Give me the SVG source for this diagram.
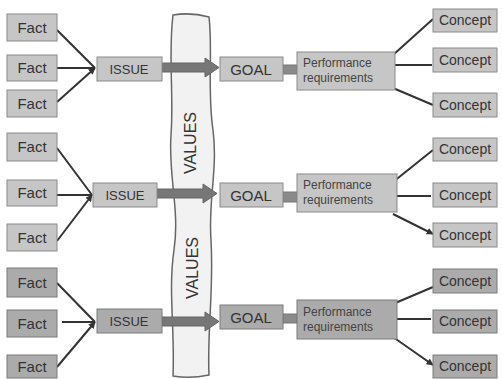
<svg xmlns="http://www.w3.org/2000/svg" width="502" height="379" viewBox="0 0 502 379">
<defs>
<style>
.n rect{fill:#c6c6c6;stroke:#8a8a8a;stroke-width:1}
.d rect{fill:#ababab;stroke:#7a7a7a;stroke-width:1}
text{font-family:"Liberation Sans",Arial,sans-serif;fill:#333;text-anchor:middle}
.f{font-size:15px}
.i{font-size:13px}
.g{font-size:15px}
.c{font-size:14px}
.p{font-size:12px;fill:#444;text-anchor:start}
.v{font-size:16px;fill:#333}
.ln{stroke:#333;stroke-width:2;fill:none}
.ar{fill:#777;stroke:#666;stroke-width:1}
.cn{fill:#8a8a8a;stroke:#777;stroke-width:1}
</style>
<marker id="ah" viewBox="0 0 10 10" refX="9" refY="5" markerWidth="7" markerHeight="7" markerUnits="userSpaceOnUse" orient="auto"><path d="M0,0L10,5L0,10z" fill="#333"/></marker>
</defs>
<rect width="502" height="379" fill="#fff"/>
<g id="values-band">
<path d="M173,15 Q191,12 209,17 C213,50 207,90 213,130 C218,170 208,200 211,240 C214,290 207,330 209,375 Q190,379 173,376 C175,330 168,290 174,250 C180,210 168,175 171,135 C174,95 168,55 173,15 Z" fill="#f2f2f2" stroke="#666" stroke-width="1.5"/>
<text class="v" transform="translate(196,143) rotate(-90)">VALUES</text>
<text class="v" transform="translate(198,268) rotate(-90)">VALUES</text>
</g>
<g id="connectors">
<path class="ln" marker-end="url(#ah)" d="M57,30L95,68M57,68L95,68M57,102L95,68"/>
<path class="ln" d="M393,55L433,19M395,65L432,65M393,88L433,105"/>
<path class="ln" marker-end="url(#ah)" d="M57,148L92,195M57,195L92,195M57,241L92,195"/>
<path class="ln" marker-end="url(#ah)" d="M393,182L433,150M396,196L431,196M393,214L433,234"/>
<path class="ln" marker-end="url(#ah)" d="M57,283L95,322M62,322L95,322M57,367L95,322"/>
<path class="ln" marker-end="url(#ah)" d="M393,304L433,287M396,319L431,319M393,337L433,365"/>
<path class="ar" d="M162,63H205V58L219,67.5L205,77V72H162Z"/>
<path class="ar" d="M157,189H203V184L217,193.5L203,203V198H157Z"/>
<path class="ar" d="M162,317H205V312L219,321.5L205,331V326H162Z"/>
<rect class="cn" x="283" y="65" width="14" height="9"/>
<rect class="cn" x="283" y="192" width="14" height="10"/>
<rect class="cn" x="283" y="314" width="14" height="9"/>
</g>
<g id="fact-1-1" class="n"><rect x="7" y="14" width="50" height="27"/><text class="f" x="32" y="33">Fact</text></g>
<g id="fact-1-2" class="n"><rect x="7" y="55" width="50" height="26"/><text class="f" x="32" y="73">Fact</text></g>
<g id="fact-1-3" class="n"><rect x="7" y="90" width="50" height="27"/><text class="f" x="32" y="109">Fact</text></g>
<g id="issue-1" class="n"><rect x="97" y="57" width="65" height="24"/><text class="i" x="129" y="74">ISSUE</text></g>
<g id="goal-1" class="n"><rect x="220" y="57" width="63" height="24"/><text class="g" x="251" y="75">GOAL</text></g>
<g id="perf-1" class="n"><rect x="297" y="52" width="98" height="38"/><text class="p" x="303" y="67">Performance</text><text class="p" x="303" y="82">requirements</text></g>
<g id="concept-1-1" class="n"><rect x="433" y="9" width="64" height="23"/><text class="c" x="465" y="25">Concept</text></g>
<g id="concept-1-2" class="n"><rect x="433" y="48" width="64" height="24"/><text class="c" x="465" y="65">Concept</text></g>
<g id="concept-1-3" class="n"><rect x="433" y="93" width="64" height="24"/><text class="c" x="465" y="110">Concept</text></g>

<g id="fact-2-1" class="n"><rect x="7" y="133" width="50" height="28"/><text class="f" x="32" y="152">Fact</text></g>
<g id="fact-2-2" class="n"><rect x="7" y="180" width="50" height="26"/><text class="f" x="32" y="198">Fact</text></g>
<g id="fact-2-3" class="n"><rect x="7" y="224" width="50" height="27"/><text class="f" x="32" y="243">Fact</text></g>
<g id="issue-2" class="n"><rect x="93" y="183" width="64" height="24"/><text class="i" x="125" y="200">ISSUE</text></g>
<g id="goal-2" class="n"><rect x="220" y="183" width="63" height="24"/><text class="g" x="251" y="201">GOAL</text></g>
<g id="perf-2" class="n"><rect x="297" y="174" width="100" height="38"/><text class="p" x="303" y="189">Performance</text><text class="p" x="303" y="204">requirements</text></g>
<g id="concept-2-1" class="n"><rect x="433" y="138" width="64" height="23"/><text class="c" x="465" y="154">Concept</text></g>
<g id="concept-2-2" class="n"><rect x="433" y="183" width="64" height="24"/><text class="c" x="465" y="200">Concept</text></g>
<g id="concept-2-3" class="n"><rect x="433" y="223" width="64" height="24"/><text class="c" x="465" y="240">Concept</text></g>

<g id="fact-3-1" class="d"><rect x="7" y="268" width="50" height="29"/><text class="f" x="32" y="288">Fact</text></g>
<g id="fact-3-2" class="d"><rect x="7" y="310" width="50" height="27"/><text class="f" x="32" y="329">Fact</text></g>
<g id="fact-3-3" class="d"><rect x="7" y="355" width="50" height="23"/><text class="f" x="32" y="372">Fact</text></g>
<g id="issue-3" class="d"><rect x="97" y="309" width="65" height="24"/><text class="i" x="129" y="326">ISSUE</text></g>
<g id="goal-3" class="d"><rect x="220" y="305" width="63" height="24"/><text class="g" x="251" y="323">GOAL</text></g>
<g id="perf-3" class="d"><rect x="297" y="300" width="100" height="39"/><text class="p" x="303" y="316">Performance</text><text class="p" x="303" y="331">requirements</text></g>
<g id="concept-3-1" class="d"><rect x="433" y="269" width="64" height="24"/><text class="c" x="465" y="286">Concept</text></g>
<g id="concept-3-2" class="d"><rect x="433" y="310" width="64" height="23"/><text class="c" x="465" y="326">Concept</text></g>
<g id="concept-3-3" class="d"><rect x="433" y="355" width="64" height="23"/><text class="c" x="465" y="371">Concept</text></g>
</svg>
